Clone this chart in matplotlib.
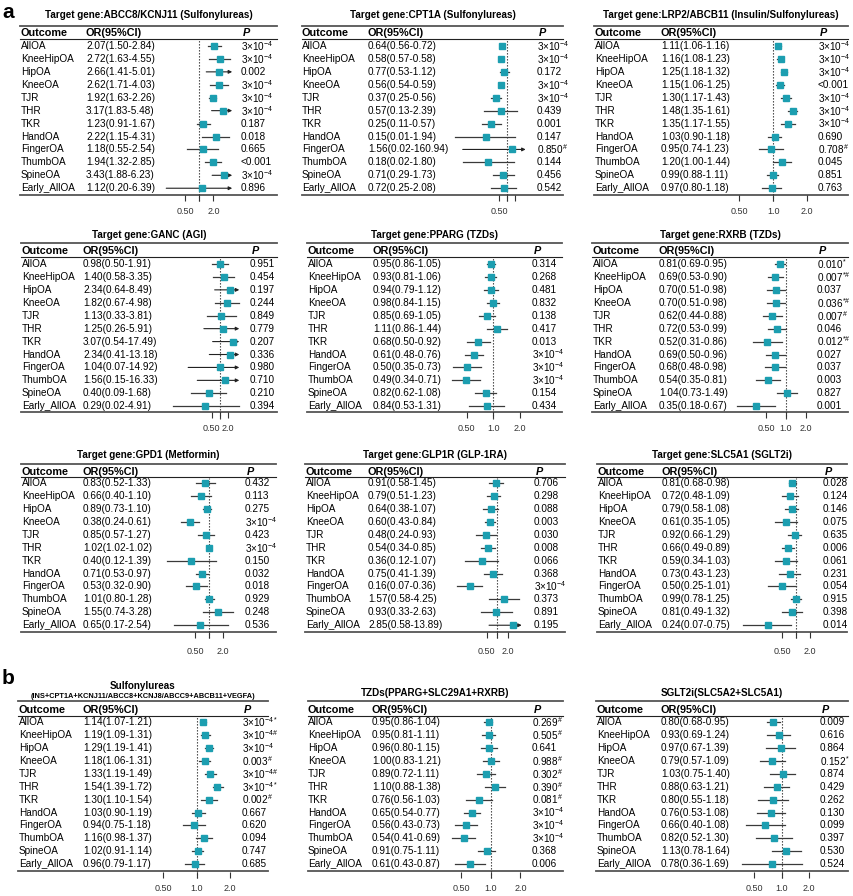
"""Forest plots of drug-target MR estimates across OA outcomes (panels a and b)."""

import matplotlib
matplotlib.use("Agg")
import matplotlib.pyplot as plt
import numpy as np
from matplotlib.ticker import NullLocator

plt.rcParams["font.family"] = ["Liberation Sans", "DejaVu Sans"]
plt.rcParams["mathtext.fontset"] = "custom"
plt.rcParams["mathtext.rm"] = "Liberation Sans"
plt.rcParams["mathtext.it"] = "Liberation Sans:italic"
plt.rcParams["mathtext.bf"] = "Liberation Sans:bold"

W, H = 854, 896
TEAL = "#1c9eb0"
LINE = "#3a3a3a"

OUTCOMES = ["AllOA", "KneeHipOA", "HipOA", "KneeOA", "TJR", "THR", "TKR",
            "HandOA", "FingerOA", "ThumbOA", "SpineOA", "Early_AllOA"]

# ---- panel a ----
abcc8_or = [2.07, 2.72, 2.66, 2.62, 1.92, 3.17, 1.23, 2.22, 1.18, 1.94, 3.43, 1.12]
abcc8_lo = [1.50, 1.63, 1.41, 1.71, 1.63, 1.83, 0.91, 1.15, 0.55, 1.32, 1.88, 0.20]
abcc8_hi = [2.84, 4.55, 5.01, 4.03, 2.26, 5.48, 1.67, 4.31, 2.54, 2.85, 6.23, 6.39]
abcc8_p = ["3e-4", "3e-4", "0.002", "3e-4", "3e-4", "3e-4", "0.187", "0.018",
           "0.665", "<0.001", "3e-4", "0.896"]

cpt1a_or = [0.64, 0.58, 0.77, 0.56, 0.37, 0.57, 0.25, 0.15, 1.56, 0.18, 0.71, 0.72]
cpt1a_lo = [0.56, 0.57, 0.53, 0.54, 0.25, 0.13, 0.11, 0.01, 0.02, 0.02, 0.29, 0.25]
cpt1a_hi = [0.72, 0.58, 1.12, 0.59, 0.56, 2.39, 0.57, 1.94, 160.94, 1.80, 1.73, 2.08]
cpt1a_p = ["3e-4", "3e-4", "0.172", "3e-4", "3e-4", "0.439", "0.001", "0.147",
           "0.850#", "0.144", "0.456", "0.542"]

lrp2_or = [1.11, 1.16, 1.25, 1.15, 1.30, 1.48, 1.35, 1.03, 0.95, 1.20, 0.99, 0.97]
lrp2_lo = [1.06, 1.08, 1.18, 1.06, 1.17, 1.35, 1.17, 0.90, 0.74, 1.00, 0.88, 0.80]
lrp2_hi = [1.16, 1.23, 1.32, 1.25, 1.43, 1.61, 1.55, 1.18, 1.23, 1.44, 1.11, 1.18]
lrp2_p = ["3e-4", "3e-4", "3e-4", "<0.001", "3e-4", "3e-4", "3e-4", "0.690",
          "0.708#", "0.045", "0.851", "0.763"]

ganc_or = [0.98, 1.40, 2.34, 1.82, 1.13, 1.25, 3.07, 2.34, 1.04, 1.56, 0.40, 0.29]
ganc_lo = [0.50, 0.58, 0.64, 0.67, 0.33, 0.26, 0.54, 0.41, 0.07, 0.15, 0.09, 0.02]
ganc_hi = [1.91, 3.35, 8.49, 4.98, 3.81, 5.91, 17.49, 13.18, 14.92, 16.33, 1.68, 4.91]
ganc_p = ["0.951", "0.454", "0.197", "0.244", "0.849", "0.779", "0.207", "0.336",
          "0.980", "0.710", "0.210", "0.394"]

pparg_or = [0.95, 0.93, 0.94, 0.98, 0.85, 1.11, 0.68, 0.61, 0.50, 0.49, 0.82, 0.84]
pparg_lo = [0.86, 0.81, 0.79, 0.84, 0.69, 0.86, 0.50, 0.48, 0.35, 0.34, 0.62, 0.53]
pparg_hi = [1.05, 1.06, 1.12, 1.15, 1.05, 1.44, 0.92, 0.76, 0.73, 0.71, 1.08, 1.31]
pparg_p = ["0.314", "0.268", "0.481", "0.832", "0.138", "0.417", "0.013", "3e-4",
           "3e-4", "3e-4", "0.154", "0.434"]

rxrb_or = [0.81, 0.69, 0.70, 0.70, 0.62, 0.72, 0.52, 0.69, 0.68, 0.54, 1.04, 0.35]
rxrb_lo = [0.69, 0.53, 0.51, 0.51, 0.44, 0.53, 0.31, 0.50, 0.48, 0.35, 0.73, 0.18]
rxrb_hi = [0.95, 0.90, 0.98, 0.98, 0.88, 0.99, 0.86, 0.96, 0.98, 0.81, 1.49, 0.67]
rxrb_p = ["0.010*", "0.007*#", "0.037", "0.036*#", "0.007#", "0.046", "0.012*#",
          "0.027", "0.037", "0.003", "0.827", "0.001"]

gpd1_or = [0.83, 0.66, 0.89, 0.38, 0.85, 1.02, 0.40, 0.71, 0.53, 1.01, 1.55, 0.65]
gpd1_lo = [0.52, 0.40, 0.73, 0.24, 0.57, 1.02, 0.12, 0.53, 0.32, 0.80, 0.74, 0.17]
gpd1_hi = [1.33, 1.10, 1.10, 0.61, 1.27, 1.02, 1.39, 0.97, 0.90, 1.28, 3.28, 2.54]
gpd1_p = ["0.432", "0.113", "0.275", "3e-4", "0.423", "3e-4", "0.150", "0.032",
          "0.018", "0.929", "0.248", "0.536"]

glp1r_or = [0.91, 0.79, 0.64, 0.60, 0.48, 0.54, 0.36, 0.75, 0.16, 1.57, 0.93, 2.85]
glp1r_lo = [0.58, 0.51, 0.38, 0.43, 0.24, 0.34, 0.12, 0.41, 0.07, 0.58, 0.33, 0.58]
glp1r_hi = [1.45, 1.23, 1.07, 0.84, 0.93, 0.85, 1.07, 1.39, 0.36, 4.25, 2.63, 13.89]
glp1r_p = ["0.706", "0.298", "0.088", "0.003", "0.030", "0.008", "0.066", "0.368",
           "3e-4", "0.373", "0.891", "0.195"]

slc5a1_or = [0.81, 0.72, 0.79, 0.61, 0.92, 0.66, 0.59, 0.73, 0.50, 0.99, 0.81, 0.24]
slc5a1_lo = [0.68, 0.48, 0.58, 0.35, 0.66, 0.49, 0.34, 0.43, 0.25, 0.78, 0.49, 0.07]
slc5a1_hi = [0.98, 1.09, 1.08, 1.05, 1.29, 0.89, 1.03, 1.23, 1.01, 1.25, 1.32, 0.75]
slc5a1_p = ["0.028", "0.124", "0.146", "0.075", "0.635", "0.006", "0.061", "0.231",
            "0.054", "0.915", "0.398", "0.014"]

# ---- panel b ----
sulf_or = [1.14, 1.19, 1.29, 1.18, 1.33, 1.54, 1.30, 1.03, 0.94, 1.16, 1.02, 0.96]
sulf_lo = [1.07, 1.09, 1.19, 1.06, 1.19, 1.39, 1.10, 0.90, 0.75, 0.98, 0.91, 0.79]
sulf_hi = [1.21, 1.31, 1.41, 1.31, 1.49, 1.72, 1.54, 1.19, 1.18, 1.37, 1.14, 1.17]
sulf_p = ["3e-4*", "3e-4#", "3e-4", "0.003#", "3e-4#", "3e-4*", "0.002#", "0.667",
          "0.620", "0.094", "0.747", "0.685"]

tzd_or = [0.95, 0.95, 0.96, 1.00, 0.89, 1.10, 0.76, 0.65, 0.56, 0.54, 0.91, 0.61]
tzd_lo = [0.86, 0.81, 0.80, 0.83, 0.72, 0.88, 0.56, 0.54, 0.43, 0.41, 0.75, 0.43]
tzd_hi = [1.04, 1.11, 1.15, 1.21, 1.11, 1.38, 1.03, 0.77, 0.73, 0.69, 1.11, 0.87]
tzd_p = ["0.269#", "0.505#", "0.641", "0.988#", "0.302#", "0.390#", "0.081#", "3e-4",
         "3e-4", "3e-4", "0.368", "0.006"]

sglt2_or = [0.80, 0.93, 0.97, 0.79, 1.03, 0.88, 0.80, 0.76, 0.66, 0.82, 1.13, 0.78]
sglt2_lo = [0.68, 0.69, 0.67, 0.57, 0.75, 0.63, 0.55, 0.53, 0.40, 0.52, 0.78, 0.36]
sglt2_hi = [0.95, 1.24, 1.39, 1.09, 1.40, 1.21, 1.18, 1.08, 1.08, 1.30, 1.64, 1.69]
sglt2_p = ["0.009", "0.616", "0.864", "0.152*", "0.874", "0.429", "0.262", "0.130",
           "0.099", "0.397", "0.530", "0.524"]

TITLES = [
    "Target gene:ABCC8/KCNJ11 (Sulfonylureas)",
    "Target gene:CPT1A (Sulfonylureas)",
    "Target gene:LRP2/ABCB11 (Insulin/Sulfonylureas)",
    "Target gene:GANC (AGI)",
    "Target gene:PPARG (TZDs)",
    "Target gene:RXRB (TZDs)",
    "Target gene:GPD1 (Metformin)",
    "Target gene:GLP1R (GLP-1RA)",
    "Target gene:SLC5A1 (SGLT2i)",
    "Sulfonylureas",
    "TZDs(PPARG+SLC29A1+RXRB)",
    "SGLT2i(SLC5A2+SLC5A1)",
]
SUBTITLE_B = "(INS+CPT1A+KCNJ11/ABCC8+KCNJ8/ABCC9+ABCB11+VEGFA)"

DATA = [
    (abcc8_or, abcc8_lo, abcc8_hi, abcc8_p),
    (cpt1a_or, cpt1a_lo, cpt1a_hi, cpt1a_p),
    (lrp2_or, lrp2_lo, lrp2_hi, lrp2_p),
    (ganc_or, ganc_lo, ganc_hi, ganc_p),
    (pparg_or, pparg_lo, pparg_hi, pparg_p),
    (rxrb_or, rxrb_lo, rxrb_hi, rxrb_p),
    (gpd1_or, gpd1_lo, gpd1_hi, gpd1_p),
    (glp1r_or, glp1r_lo, glp1r_hi, glp1r_p),
    (slc5a1_or, slc5a1_lo, slc5a1_hi, slc5a1_p),
    (sulf_or, sulf_lo, sulf_hi, sulf_p),
    (tzd_or, tzd_lo, tzd_hi, tzd_p),
    (sglt2_or, sglt2_lo, sglt2_hi, sglt2_p),
]

TICKS = [0.5, 1.0, 2.0]
TICK_LABELS = [
    ["0.50", "", "2.0"], ["0.50", "", ""], ["0.50", "1.0", "2.0"],
    ["0.50", "", "2.0"], ["0.50", "1.0", "2.0"], ["0.50", "1.0", "2.0"],
    ["0.50", "", "2.0"], ["0.50", "", "2.0"], ["0.50", "", "2.0"],
    ["0.50", "1.0", "2.0"], ["0.50", "1.0", "2.0"], ["0.50", "1.0", "2.0"],
]
X_CAP = 5.0

# layout (pixels): title, top rule, header, header rule, first row, bottom rule, tick pad
ROW_STEP = 12.93
ROWS = {
    "A": dict(title=15, top=26.5, head=33, hline=39.5, first=46, bottom=195, pad=4.5),
    "B": dict(title=235, top=243, head=251, hline=257, first=264, bottom=412.5, pad=4.0),
    "C": dict(title=455, top=464, head=472, hline=477.5, first=483, bottom=632, pad=6.0),
    "D": dict(title=693, top=701.5, head=710, hline=716, first=722, bottom=871.5, pad=4.5),
}
# row, rule left/right, outcome x, OR x, P x, x of OR=1, px per doubling
LAYOUT = [
    ("A", 20, 277, 21, 86, 241, 199.2, 14.2),
    ("A", 302, 563, 302, 368, 537, 507.3, 7.9),
    ("A", 594, 848, 595, 661, 818, 773.3, 34.0),
    ("B", 21, 277, 22, 83, 250, 220.0, 8.3),
    ("B", 307, 562, 308, 373, 532, 493.3, 26.7),
    ("B", 592, 848, 593, 659, 817, 786.0, 19.7),
    ("C", 21, 276, 22, 83, 245, 209.0, 13.8),
    ("C", 305, 565, 306, 368, 534, 497.3, 10.5),
    ("C", 597, 847, 598, 662, 823, 796.3, 13.9),
    ("D", 18, 268, 19, 83, 242, 196.7, 33.3),
    ("D", 308, 563, 308, 372, 532, 490.7, 29.7),
    ("D", 596, 848, 597, 661, 820, 781.7, 27.2),
]

BODY = 7.2
HEAD = 7.8
TITLE = 7.1
TICK = 6.5
TICK_LEN = 4.5


def fmt_p(s):
    base = s.rstrip("*#")
    mark = s[len(base):].replace("#", r"\#")
    if base == "3e-4":
        return "3×10$^{-4" + mark + "}$"
    if mark:
        return base + "$^{" + mark + "}$"
    return base


def draw_panel(fig, base, k):
    ors, los, his, ps = DATA[k]
    row, xl, xr, x_out, x_or, x_p, c, u = LAYOUT[k]
    r = ROWS[row]
    last = r["first"] + 11 * ROW_STEP
    xm = (xl + xr) / 2

    if k == 9:
        base.text(xm, r["title"] - 7, TITLES[k], ha="center", va="center",
                  fontsize=TITLE, fontweight="bold")
        base.text(xm, r["title"] + 4, SUBTITLE_B, ha="center", va="center",
                  fontsize=5.3, fontweight="bold")
    else:
        base.text(xm, r["title"], TITLES[k], ha="center", va="center",
                  fontsize=TITLE, fontweight="bold")

    base.plot([xl, xr], [r["top"]] * 2, color="#555555", lw=1.3)
    base.plot([xl, xr], [r["hline"]] * 2, color="#222222", lw=0.8)
    base.plot([xl, xr], [r["bottom"]] * 2, color="#555555", lw=1.3)

    base.text(x_out, r["head"], "Outcome", fontsize=HEAD, fontweight="bold", va="center")
    base.text(x_or, r["head"], "OR(95%CI)", fontsize=HEAD, fontweight="bold", va="center")
    base.text(x_p + 2, r["head"], "P", fontsize=HEAD, fontweight="bold",
              fontstyle="italic", va="center")

    for i, name in enumerate(OUTCOMES):
        y = r["first"] + i * ROW_STEP
        base.text(x_out, y, name, fontsize=BODY, va="center")
        base.text(x_or, y, f"{ors[i]:.2f}({los[i]:.2f}-{his[i]:.2f})",
                  fontsize=BODY, va="center")
        base.text(x_p, y, fmt_p(ps[i]), fontsize=BODY, va="center")

    # forest column: log-OR axis
    lo = min(min(los), 0.5)
    hi = min(max(max(his), 2.0), X_CAP)
    left = c + u * np.log2(lo)
    right = c + u * np.log2(hi)
    top, bottom = r["hline"], r["bottom"]
    fax = fig.add_axes([left / W, 1 - bottom / H, (right - left) / W, (bottom - top) / H])
    fax.patch.set_alpha(0)
    fax.set_xscale("log")
    fax.set_xlim(lo, hi)
    fax.set_ylim(11 + (bottom - last) / ROW_STEP, -(r["first"] - top) / ROW_STEP)
    for s in fax.spines.values():
        s.set_visible(False)
    fax.set_yticks([])
    fax.set_xticks(TICKS, labels=TICK_LABELS[k])
    fax.xaxis.set_minor_locator(NullLocator())
    fax.tick_params(axis="x", length=TICK_LEN, width=0.8, color="#333333",
                    labelsize=TICK, labelcolor="#333333", pad=r["pad"])

    tick_px = TICK_LEN * 100 / 72
    fax.axvline(1.0, ymin=-tick_px / (bottom - top), ymax=1, color="#333333",
                lw=0.8, ls=(0, (1.2, 1.5)), clip_on=False, zorder=1)

    for i in range(len(ors)):
        x0 = max(los[i], lo)
        if his[i] > hi:
            fax.annotate("", xy=(hi, i), xytext=(x0, i), annotation_clip=False,
                         arrowprops=dict(arrowstyle="-|>", mutation_scale=5, lw=0.8,
                                         color="#222222", shrinkA=0, shrinkB=0))
        else:
            fax.plot([x0, his[i]], [i, i], color=LINE, lw=0.9, clip_on=False, zorder=2)
        fax.plot(ors[i], i, "s", ms=4.2, color=TEAL, clip_on=False, zorder=3)


fig = plt.figure(figsize=(W / 100, H / 100), dpi=100)
base = fig.add_axes([0, 0, 1, 1])
base.set_xlim(0, W)
base.set_ylim(H, 0)
base.axis("off")

base.text(2, 12, "a", fontsize=15, fontweight="bold", va="center")
base.text(2, 679, "b", fontsize=15, fontweight="bold", va="center")

for k in range(len(DATA)):
    draw_panel(fig, base, k)

fig.savefig("out.png", dpi=100)
